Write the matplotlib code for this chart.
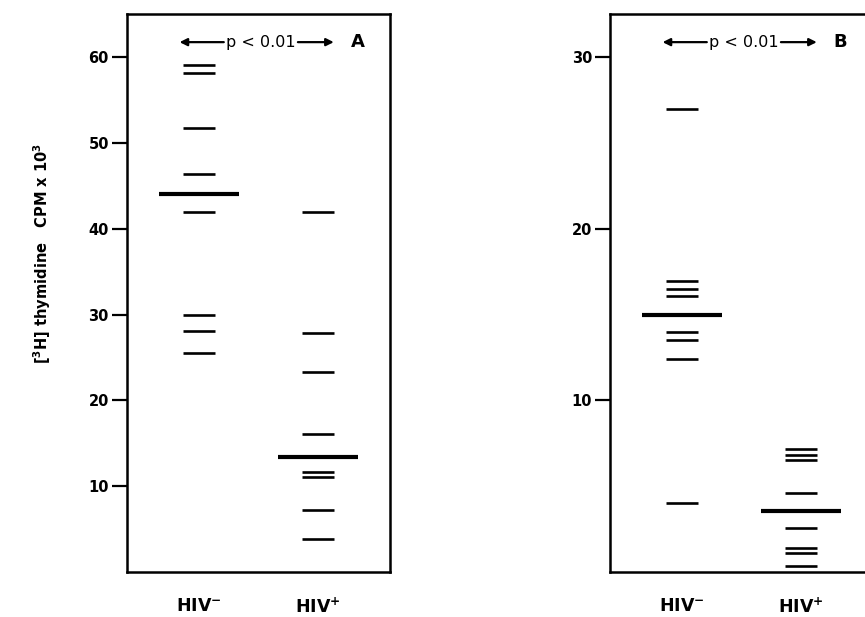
import matplotlib
matplotlib.use("Agg")
import matplotlib.pyplot as plt

# region data
groups = ["HIV$^{-}$", "HIV$^{+}$"]

# panel A: individual values and group means (CPM x 10^3)
a_neg = [59.1, 58.1, 51.7, 46.4, 41.9, 30.0, 28.1, 25.5]
a_pos = [41.9, 27.8, 23.3, 16.1, 11.6, 11.1, 7.2, 3.9]
a_means = [44.1, 13.4]
a_ticks = [10, 20, 30, 40, 50, 60]

# panel B
b_neg = [27.0, 16.95, 16.5, 16.1, 14.0, 13.5, 12.4, 4.05]
b_pos = [7.15, 6.8, 6.55, 4.6, 2.55, 1.38, 1.12, 0.35]
b_means = [15.0, 3.57]
b_ticks = [10, 20, 30]
# endregion

plt.rcParams['font.family'] = ['DejaVu Sans']
plt.rcParams['font.weight'] = 'bold'
plt.rcParams['mathtext.default'] = 'bf'

fig = plt.figure(figsize=(8.65, 6.17), dpi=100)
axA = fig.add_axes([0.1468, 0.0729, 0.304, 0.904])
axB = fig.add_axes([0.7052, 0.0729, 0.304, 0.904])


def draw_panel(ax, neg, pos, means, ticks, ymax, letter):
    ax.hlines(neg, 1 - 0.135, 1 + 0.135, color='black', linewidth=1.9)
    ax.hlines(pos, 2 - 0.135, 2 + 0.135, color='black', linewidth=1.9)
    ax.hlines(means, [1 - 0.335, 2 - 0.335], [1 + 0.335, 2 + 0.335],
              color='black', linewidth=3.0)
    ax.set_xlim(0.4, 2.6)
    ax.set_ylim(0, ymax)
    ax.set_yticks(ticks)
    ax.set_yticklabels([str(t) for t in ticks], fontsize=10.5, fontweight='bold')
    ax.set_xticks([1, 2])
    ax.set_xticklabels(groups, fontsize=12.5, fontweight='bold')
    ax.tick_params(axis='y', length=11, width=1.6, pad=2)
    ax.tick_params(axis='x', length=0, pad=18)
    for s in ax.spines.values():
        s.set_linewidth(1.8)

    # significance annotation
    tr = ax.get_xaxis_transform()
    yy = 0.95
    arrow = dict(arrowstyle='-|>', color='black', lw=1.6, mutation_scale=11,
                 shrinkA=0, shrinkB=0)
    ax.annotate('', xy=(0.84, yy), xytext=(1.21, yy), xycoords=tr,
                textcoords=tr, arrowprops=arrow)
    ax.annotate('', xy=(2.13, yy), xytext=(1.83, yy), xycoords=tr,
                textcoords=tr, arrowprops=arrow)
    ax.text(1.52, yy, "p < 0.01", transform=tr, ha='center', va='center',
            fontsize=11.5, fontweight='normal')
    ax.text(2.33, yy, letter, transform=tr, ha='center', va='center',
            fontsize=13, fontweight='bold')


draw_panel(axA, a_neg, a_pos, a_means, a_ticks, 65, "A")
draw_panel(axB, b_neg, b_pos, b_means, b_ticks, 32.5, "B")

fig.text(0.049, 0.59, r"$\left[^{3}\mathrm{H}\right]$ thymidine   CPM x 10$^{3}$",
         rotation=90, ha='center', va='center', fontsize=10.5, fontweight='bold')

fig.savefig("out.png", dpi=100)
